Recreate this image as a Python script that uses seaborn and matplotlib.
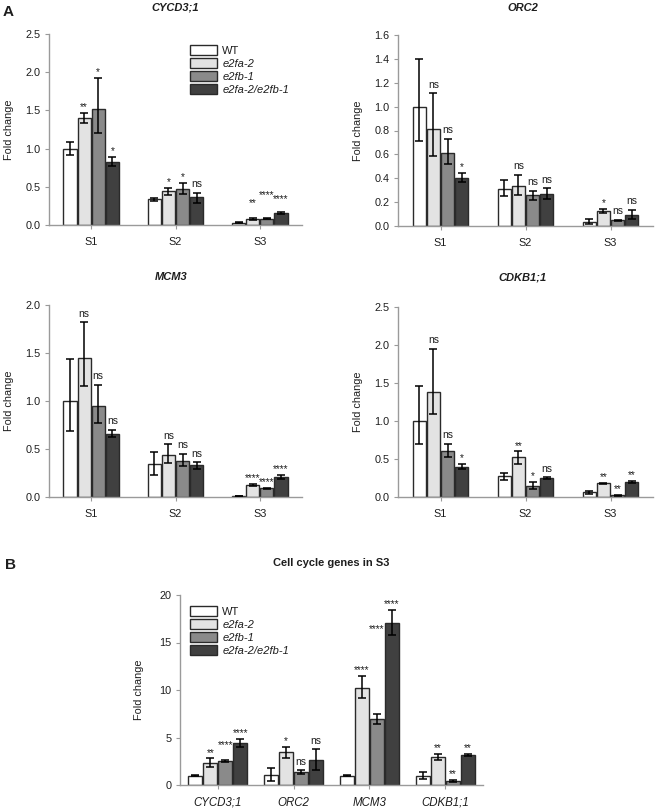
import numpy as np
import pandas as pd
import matplotlib
matplotlib.use("Agg")
import matplotlib.pyplot as plt
from matplotlib.container import BarContainer
import seaborn as sns

# ---------------- data ----------------
genotypes = ["WT", "e2fa-2", "e2fb-1", "e2fa-2/e2fb-1"]
stages = ["S1", "S2", "S3"]
genes = ["CYCD3;1", "ORC2", "MCM3", "CDKB1;1"]

# rows = stage (S1,S2,S3), columns = genotype
cycd_mean = [[1.00, 1.40, 1.52, 0.83], [0.34, 0.44, 0.47, 0.36], [0.03, 0.08, 0.085, 0.16]]
cycd_lo   = [[0.92, 1.33, 1.21, 0.77], [0.32, 0.39, 0.40, 0.29], [0.028, 0.065, 0.078, 0.145]]
cycd_hi   = [[1.08, 1.47, 1.93, 0.89], [0.355, 0.48, 0.55, 0.42], [0.033, 0.095, 0.092, 0.175]]
cycd_sig  = [["", "**", "*", "*"], ["", "*", "*", "ns"], ["", "**", "****", "****"]]

orc_mean = [[1.00, 0.81, 0.615, 0.405], [0.31, 0.335, 0.26, 0.27], [0.035, 0.125, 0.048, 0.095]]
orc_lo   = [[0.71, 0.59, 0.52, 0.37], [0.25, 0.26, 0.22, 0.225], [0.015, 0.105, 0.042, 0.06]]
orc_hi   = [[1.40, 1.11, 0.73, 0.445], [0.385, 0.43, 0.295, 0.315], [0.06, 0.145, 0.053, 0.135]]
orc_sig  = [["", "ns", "ns", "*"], ["", "ns", "ns", "ns"], ["", "*", "ns", "ns"]]

mcm_mean = [[1.00, 1.45, 0.95, 0.66], [0.34, 0.44, 0.38, 0.33], [0.01, 0.13, 0.09, 0.21]]
mcm_lo   = [[0.69, 1.16, 0.77, 0.62], [0.23, 0.35, 0.32, 0.29], [0.008, 0.11, 0.08, 0.19]]
mcm_hi   = [[1.44, 1.82, 1.17, 0.70], [0.47, 0.55, 0.45, 0.36], [0.012, 0.14, 0.095, 0.23]]
mcm_sig  = [["", "ns", "ns", "ns"], ["", "ns", "ns", "ns"], ["", "****", "****", "****"]]

cdkb_mean = [[1.00, 1.38, 0.61, 0.40], [0.27, 0.52, 0.15, 0.25], [0.06, 0.18, 0.02, 0.20]]
cdkb_lo   = [[0.70, 1.09, 0.52, 0.37], [0.23, 0.44, 0.10, 0.24], [0.04, 0.17, 0.015, 0.19]]
cdkb_hi   = [[1.46, 1.95, 0.70, 0.43], [0.32, 0.60, 0.20, 0.26], [0.08, 0.19, 0.025, 0.21]]
cdkb_sig  = [["", "ns", "ns", "*"], ["", "**", "*", "ns"], ["", "**", "**", "**"]]

# panel B: rows = gene, columns = genotype
s3_mean = [[1.00, 2.35, 2.50, 4.40], [1.05, 3.45, 1.35, 2.65], [1.00, 10.25, 6.90, 17.05], [1.00, 2.95, 0.40, 3.20]]
s3_lo   = [[0.90, 1.90, 2.40, 3.95], [0.45, 2.85, 1.15, 1.55], [0.95, 9.15, 6.45, 15.75], [0.60, 2.60, 0.30, 3.10]]
s3_hi   = [[1.10, 2.80, 2.60, 4.85], [1.75, 4.05, 1.55, 3.75], [1.05, 11.45, 7.45, 18.45], [1.35, 3.25, 0.50, 3.30]]
s3_sig  = [["", "**", "****", "****"], ["", "*", "ns", "ns"], ["", "****", "****", "****"], ["", "**", "**", "**"]]

# ---------------- style ----------------
sns.set_theme(style="ticks")
plt.rcParams["font.family"] = ["Liberation Sans", "DejaVu Sans"]
colors = {"WT": "#ffffff", "e2fa-2": "#e3e3e3", "e2fb-1": "#8a8a8a", "e2fa-2/e2fb-1": "#404040"}
EDGE = "#2a2a2a"
SPINE = "#9a9a9a"
TXT = "#1e1e1e"
W, H = 656, 808

fig = plt.figure(figsize=(W / 100, H / 100), dpi=100)


def rect(l, t, r, b):
    return [l / W, 1 - b / H, (r - l) / W, (b - t) / H]


# label baseline overrides (data units) for a few significance marks
overrides = {
    ("CYCD3;1", 2, 1): 0.245,
    ("CYCD3;1", 2, 2): 0.35,
    ("CYCD3;1", 2, 3): 0.30,
    ("B", 0, 2): 3.93,
    ("B", 2, 2): 16.05,
}


def panel(ax, key, cats, mean, lo, hi, sig, width, ylim, step, fmt, italic_x=False, xsize=7.8):
    n = len(cats)
    df = pd.DataFrame({
        "cat": np.repeat(cats, len(genotypes)),
        "geno": genotypes * n,
        "val": np.asarray(mean, dtype=float).ravel(),
    })
    sns.barplot(data=df, x="cat", y="val", hue="geno", order=cats, hue_order=genotypes,
                palette=colors, saturation=1, width=width, gap=0.07, edgecolor=EDGE,
                linewidth=1.0, errorbar=None, legend=False, ax=ax)
    bars = [c for c in ax.containers if isinstance(c, BarContainer)]
    for j, cont in enumerate(bars):
        for i, p in enumerate(cont.patches):
            x = p.get_x() + p.get_width() / 2
            m = p.get_height()
            ax.errorbar(x, m, yerr=[[m - lo[i][j]], [hi[i][j] - m]], fmt="none",
                        ecolor="black", elinewidth=1.1, capsize=3, capthick=1.1, zorder=4)
            s = sig[i][j]
            if not s:
                continue
            if (key, i, j) in overrides:
                ax.text(x, overrides[(key, i, j)], s, ha="center", va="baseline",
                        fontsize=7.3, color=TXT)
            else:
                pad = 2 if "*" in s else 4
                ax.annotate(s, (x, hi[i][j]), xytext=(0, pad), textcoords="offset points",
                            ha="center", va="baseline", fontsize=7.5 if s == "ns" else 7.3,
                            color=TXT)
    ax.set_xlim(-0.5, n - 0.5)
    ax.set_ylim(*ylim)
    ticks = np.arange(ylim[0], ylim[1] + step / 2, step)
    ax.set_yticks(ticks)
    ax.set_yticklabels([fmt.format(t) for t in ticks])
    ax.set_xlabel("")
    ax.set_ylabel("Fold change", fontsize=7.8, color=TXT)
    for side in ["top", "right"]:
        ax.spines[side].set_visible(False)
    for side in ["left", "bottom"]:
        ax.spines[side].set_color(SPINE)
        ax.spines[side].set_linewidth(1.0)
    ax.tick_params(axis="y", direction="out", length=3, width=0.8, color=SPINE,
                   labelsize=7.8, labelcolor=TXT, pad=3)
    ax.tick_params(axis="x", direction="out", length=3, width=0.8, color=SPINE,
                   labelsize=xsize, labelcolor=TXT, pad=5.5)
    if italic_x:
        for t in ax.get_xticklabels():
            t.set_fontstyle("italic")
    ax.set_facecolor("none")
    return bars


def legend(ax, bars, x_px, y_px):
    lg = ax.legend(handles=bars, labels=genotypes, loc="upper left",
                   bbox_to_anchor=(x_px / W, 1 - y_px / H), bbox_transform=fig.transFigure,
                   frameon=False, fontsize=8, borderpad=0, borderaxespad=0,
                   handlelength=2.4, handleheight=1.05, labelspacing=0.18, handletextpad=0.5)
    for t in lg.get_texts()[1:]:
        t.set_fontstyle("italic")
    for t in lg.get_texts():
        t.set_color(TXT)


def ylabel_at(ax, axis_left_px, axis_width_px, label_center_px):
    # anchor of the rotated y label is its right-hand edge
    right_edge = label_center_px + 6
    ax.yaxis.set_label_coords(-(axis_left_px - right_edge) / axis_width_px, 0.5)


ax1 = fig.add_axes(rect(49, 34, 302, 225))
b1 = panel(ax1, "CYCD3;1", stages, cycd_mean, cycd_lo, cycd_hi, cycd_sig, 0.67, (0, 2.5), 0.5, "{:.1f}")
legend(ax1, b1, 190, 45)
ylabel_at(ax1, 49, 253, 8)

ax2 = fig.add_axes(rect(398, 35, 653, 226))
panel(ax2, "ORC2", stages, orc_mean, orc_lo, orc_hi, orc_sig, 0.67, (0, 1.6), 0.2, "{:.1f}")
ylabel_at(ax2, 398, 255, 357)

ax3 = fig.add_axes(rect(49, 305, 302, 497))
panel(ax3, "MCM3", stages, mcm_mean, mcm_lo, mcm_hi, mcm_sig, 0.67, (0, 2.0), 0.5, "{:.1f}")
ylabel_at(ax3, 49, 253, 8)

ax4 = fig.add_axes(rect(398, 307, 653, 497))
panel(ax4, "CDKB1;1", stages, cdkb_mean, cdkb_lo, cdkb_hi, cdkb_sig, 0.67, (0, 2.5), 0.5, "{:.1f}")
ylabel_at(ax4, 398, 255, 357)

ax5 = fig.add_axes(rect(180, 595, 483, 785))
b5 = panel(ax5, "B", genes, s3_mean, s3_lo, s3_hi, s3_sig, 0.79, (0, 20), 5, "{:.0f}",
           italic_x=True, xsize=8.3)
legend(ax5, b5, 190, 606)
ylabel_at(ax5, 180, 303, 138)

# titles
for txt, x, y in [("CYCD3;1", 175, 8), ("ORC2", 523, 8), ("MCM3", 171, 277), ("CDKB1;1", 523, 278)]:
    fig.text(x / W, 1 - y / H, txt, ha="center", va="center", fontsize=8,
             fontweight="bold", fontstyle="italic", color=TXT)
fig.text(331 / W, 1 - 563 / H, "Cell cycle genes in S3", ha="center", va="center",
         fontsize=8, fontweight="bold", color=TXT)
fig.text(8 / W, 1 - 12 / H, "A", ha="center", va="center", fontsize=11, fontweight="bold", color=TXT)
fig.text(11 / W, 1 - 565 / H, "B", ha="center", va="center", fontsize=11, fontweight="bold", color=TXT)

fig.savefig("out.png", dpi=100)
